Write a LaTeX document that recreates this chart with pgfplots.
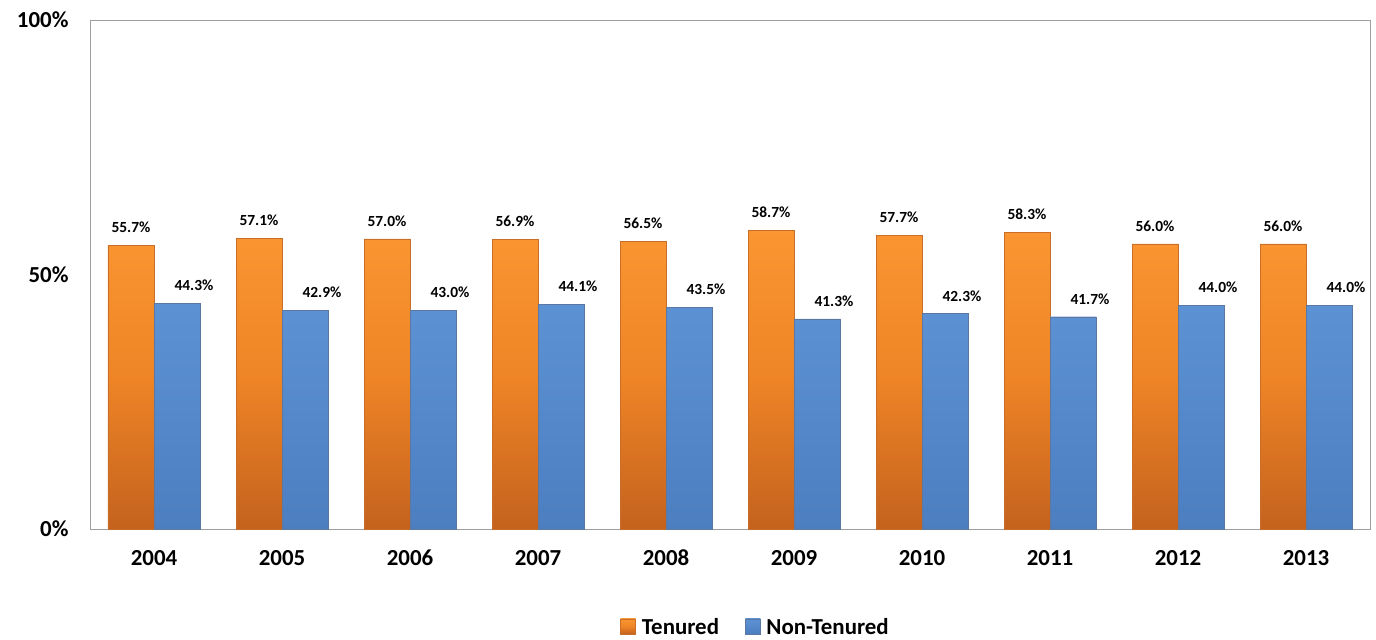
\documentclass[border=0pt]{standalone}
\usepackage{pgfplots}
\pgfplotsset{compat=1.18}
\usepackage{fontspec}
\setmainfont{Carlito}
\definecolor{orTop}{RGB}{250,150,50}
\definecolor{orMid}{RGB}{238,132,38}
\definecolor{orBot}{RGB}{196,98,30}
\definecolor{orEdge}{RGB}{200,110,40}
\definecolor{blTop}{RGB}{92,146,212}
\definecolor{blBot}{RGB}{76,126,192}
\definecolor{blEdge}{RGB}{90,120,160}
\begin{document}
\begin{tikzpicture}
\begin{axis}[
  scale only axis, width=1280bp, height=509bp,
  xmin=-0.5, xmax=9.5, ymin=0, ymax=100,
  ybar=0pt, bar width=46bp,
  xtick={0,...,9},
  xticklabels={2004,2005,2006,2007,2008,2009,2010,2011,2012,2013},
  ytick={0,50,100},
  yticklabel={\pgfmathprintnumber{\tick}\%},
  /pgf/number format/assume math mode=true,
  typeset ticklabels with strut,
  axis line style={draw=black!38},
  major tick length=0pt,
  tick label style={font=\bfseries\fontsize{23}{25}\selectfont},
  yticklabel style={xshift=-18bp},
  xticklabel style={yshift=-16bp},
  nodes near coords={\pgfmathprintnumber[fixed,fixed zerofill,precision=1]{\pgfplotspointmeta}\%},
  nodes near coords style={font=\bfseries\fontsize{15.5}{17}\selectfont, yshift=9bp},
  legend style={at={(0.52,-0.1925)}, anchor=center, draw=none, legend columns=2,
    font=\bfseries\fontsize{23}{25}\selectfont,
    /tikz/every odd column/.append style={column sep=4bp},
    /tikz/every even column/.append style={column sep=24bp}},
  legend image code/.code={\path[#1] (0bp,-7bp) rectangle (15bp,8bp);},
  clip=false,
]
\addplot[top color=orTop, bottom color=orBot, middle color=orMid, draw=orEdge, line width=0.4bp]
  coordinates {(0,55.7) (1,57.1) (2,57.0) (3,56.9) (4,56.5) (5,58.7) (6,57.7) (7,58.3) (8,56.0) (9,56.0)};
\addplot[top color=blTop, bottom color=blBot, draw=blEdge, line width=0.4bp,
  every node near coord/.append style={xshift=17bp}]
  coordinates {(0,44.3) (1,42.9) (2,43.0) (3,44.1) (4,43.5) (5,41.3) (6,42.3) (7,41.7) (8,44.0) (9,44.0)};
\legend{Tenured, Non-Tenured}
\end{axis}
\pgfresetboundingbox
\path[use as bounding box] (current axis.south west) ++(-90bp,-110bp) rectangle ([shift={(6bp,20bp)}]current axis.north east);
\end{tikzpicture}
\end{document}
